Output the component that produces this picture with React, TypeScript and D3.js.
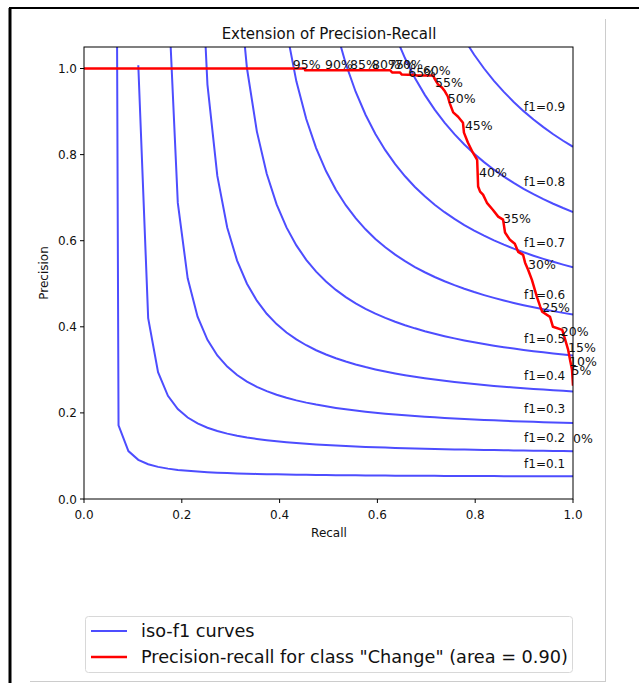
import React from 'react';
import * as d3 from 'd3';

// iso-f1 levels drawn as reference curves
const f1Levels = [0.1, 0.2, 0.3, 0.4, 0.5, 0.6, 0.7, 0.8, 0.9];

// PR curve for class "Change"
const prRecall = [
  0, 0.452, 0.452, 0.626, 0.63, 0.646, 0.65, 0.677, 0.681, 0.714, 0.718, 0.724, 0.732,
  0.738, 0.744, 0.748, 0.755, 0.765, 0.775, 0.777, 0.785, 0.795, 0.804, 0.806, 0.81,
  0.816, 0.824, 0.836, 0.847, 0.857, 0.861, 0.871, 0.881, 0.888, 0.898, 0.902, 0.908,
  0.916, 0.926, 0.933, 0.937, 0.953, 0.959, 0.978, 0.984, 0.99, 0.994, 0.998, 1.0,
];
const prPrecision = [
  1.0, 1.0, 0.996, 0.996, 0.991, 0.991, 0.986, 0.985, 0.984, 0.984, 0.974, 0.963, 0.956,
  0.947, 0.935, 0.919, 0.898, 0.888, 0.874, 0.851, 0.828, 0.805, 0.788, 0.726, 0.714,
  0.707, 0.688, 0.672, 0.656, 0.649, 0.619, 0.602, 0.593, 0.574, 0.567, 0.549, 0.533,
  0.509, 0.47, 0.447, 0.435, 0.423, 0.4, 0.393, 0.37, 0.347, 0.323, 0.3, 0.263,
];

// threshold annotations
const thrLabels = ['95%', '90%', '85%', '80%', '75%', '70%', '65%', '60%', '55%', '50%',
  '45%', '40%', '35%', '30%', '25%', '20%', '15%', '10%', '5%', '0%'];
const thrRecall = [0.427, 0.493, 0.544, 0.589, 0.622, 0.636, 0.663, 0.693, 0.718, 0.744,
  0.779, 0.808, 0.857, 0.908, 0.937, 0.975, 0.99, 0.992, 0.997, 1.0];
const thrPrecision = [1.0, 1.0, 1.0, 1.0, 1.0, 0.998, 0.981, 0.986, 0.958, 0.921,
  0.858, 0.747, 0.642, 0.535, 0.435, 0.379, 0.342, 0.309, 0.288, 0.13];

const ticks = [0, 0.2, 0.4, 0.6, 0.8, 1.0];

const W = 639;
const H = 683;
const FONT = 'DejaVu Sans, sans-serif';
const BLUE = 'rgb(77,77,255)';

export default function App() {
  const left = 84, right = 573, top = 47, bottom = 499;
  const x = d3.scaleLinear().domain([0, 1]).range([left, right]);
  const y = d3.scaleLinear().domain([0, 1.05]).range([bottom, top]);

  const line = d3.line<[number, number]>().x(d => x(d[0])).y(d => y(d[1]));

  // iso-f1 contour: p = f*r / (2r - f), sampled on the same recall grid as sklearn's demo
  const grid = d3.range(50).map(i => 0.01 + (i * 0.99) / 49);
  const isoCurves = f1Levels.map(f => {
    const pts = grid
      .map(r => [r, (f * r) / (2 * r - f)] as [number, number])
      .filter(d => d[1] >= 0);
    const r45 = grid[45];
    const labelY = (f * r45) / (2 * r45 - f) + 0.02;
    return { f, pts, labelY };
  });

  const prPts = prRecall.map((r, i) => [r, prPrecision[i]] as [number, number]);

  return (
    <svg width={W} height={H} style={{ position: 'absolute', left: 0, top: 0, background: '#fff' }}
      fontFamily={FONT}>
      <rect x={0} y={0} width={W} height={H} fill="#fff" />
      {/* surrounding frame bits */}
      <line x1={9} y1={8} x2={W} y2={8} stroke="#000" strokeWidth={2} />
      <line x1={10} y1={8} x2={10} y2={H} stroke="#000" strokeWidth={3} />
      <line x1={605.5} y1={19} x2={605.5} y2={682} stroke="#ccc" strokeWidth={1} />
      <line x1={30} y1={681.5} x2={606} y2={681.5} stroke="#ccc" strokeWidth={1} />

      <text x={329} y={39} textAnchor="middle" fontSize={15} fill="#111">Extension of Precision-Recall</text>

      <defs>
        <clipPath id="plot">
          <rect x={left} y={top} width={right - left} height={bottom - top} />
        </clipPath>
      </defs>

      <g clipPath="url(#plot)">
        {isoCurves.map(c => (
          <path key={c.f} d={line(c.pts) || ''} fill="none" stroke={BLUE} strokeWidth={2} />
        ))}
        <path d={line(prPts) || ''} fill="none" stroke="#ff0000" strokeWidth={2.5} strokeLinejoin="round" />
      </g>

      {isoCurves.map(c => (
        <text key={'l' + c.f} x={x(0.9)} y={y(c.labelY)} fontSize={12} fill="#111">
          {`f1=${c.f.toFixed(1)}`}
        </text>
      ))}

      {thrLabels.map((t, i) => (
        <text key={t} x={x(thrRecall[i])} y={y(thrPrecision[i])} fontSize={12.5} fill="#111">{t}</text>
      ))}

      {/* axes frame */}
      <rect x={left} y={top} width={right - left} height={bottom - top} fill="none" stroke="#000" strokeWidth={1} />

      {ticks.map(t => (
        <g key={'x' + t}>
          <line x1={x(t)} x2={x(t)} y1={bottom} y2={bottom + 4} stroke="#000" />
          <text x={x(t)} y={519} textAnchor="middle" fontSize={12} fill="#111">{t.toFixed(1)}</text>
        </g>
      ))}
      {ticks.map(t => (
        <g key={'y' + t}>
          <line x1={left - 4} x2={left} y1={y(t)} y2={y(t)} stroke="#000" />
          <text x={77} y={y(t) + 4.5} textAnchor="end" fontSize={12} fill="#111">{t.toFixed(1)}</text>
        </g>
      ))}

      <text x={329} y={537} textAnchor="middle" fontSize={12} fill="#111">Recall</text>
      <text transform="translate(48,273) rotate(-90)" textAnchor="middle" fontSize={12} fill="#111">Precision</text>

      {/* legend */}
      <rect x={85.5} y={616.5} width={487} height={56} rx={3} fill="#fff" stroke="#d8d8d8" />
      <line x1={91} x2={127} y1={631} y2={631} stroke={BLUE} strokeWidth={2} />
      <line x1={91} x2={127} y1={657} y2={657} stroke="#ff0000" strokeWidth={2.5} />
      <text x={141} y={637} fontSize={17.7} fill="#111">iso-f1 curves</text>
      <text x={141} y={663} fontSize={17.7} fill="#111">Precision-recall for class "Change" (area = 0.90)</text>
    </svg>
  );
}
